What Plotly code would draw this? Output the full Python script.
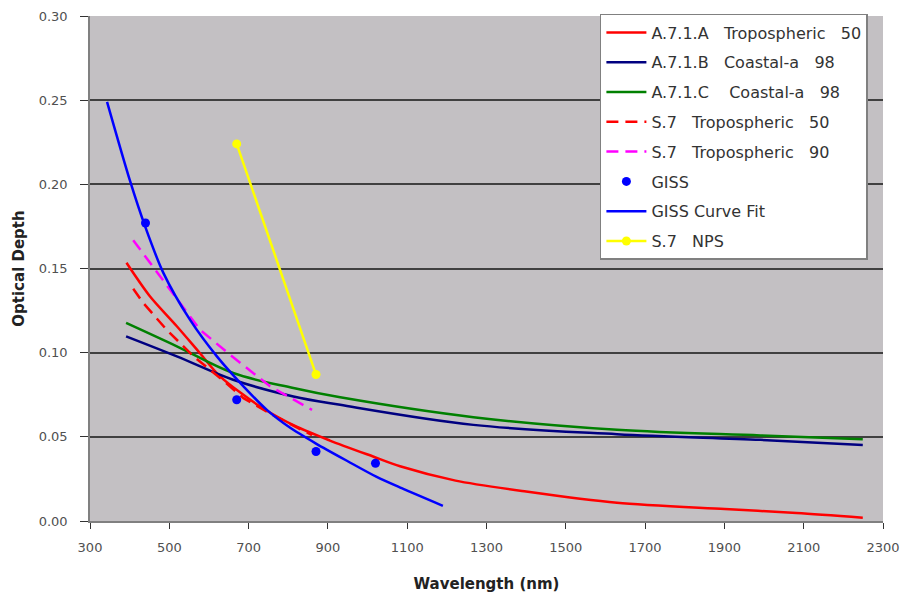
import plotly.graph_objects as go

# A.7.1.A Tropospheric 50
a71a_x = [392, 451, 519, 577, 628, 729, 821, 905, 1014, 1082, 1222, 1400, 1629, 1901, 2082, 2249]
a71a_y = [0.1534, 0.1335, 0.1157, 0.0998, 0.0859, 0.068, 0.056, 0.0478, 0.0383, 0.0325, 0.0240, 0.0175, 0.0108, 0.0071, 0.0048, 0.0020]
# A.7.1.B Coastal-a 98
a71b_x = [391, 519, 661, 813, 931, 1267, 1629, 1991, 2249]
a71b_y = [0.1097, 0.0978, 0.0839, 0.074, 0.069, 0.0571, 0.0516, 0.0482, 0.0452]
# A.7.1.C Coastal-a 98
a71c_x = [391, 519, 661, 813, 931, 1267, 1629, 1991, 2249]
a71c_y = [0.1177, 0.1038, 0.0879, 0.079, 0.0735, 0.0617, 0.0542, 0.0508, 0.0486]
# S.7 Tropospheric 50
s7t50_x = [409, 434, 493, 561, 628, 687, 760, 860]
s7t50_y = [0.138, 0.1296, 0.1137, 0.0978, 0.085, 0.073, 0.063, 0.051]
# S.7 Tropospheric 90
s7t90_x = [409, 477, 577, 653, 754, 860]
s7t90_y = [0.1668, 0.1454, 0.1137, 0.0988, 0.080, 0.066]
# GISS points
giss_x = [440, 670, 870, 1020]
giss_y = [0.177, 0.072, 0.0413, 0.0343]
# GISS curve fit
gfit_x = [343, 401, 439, 485, 552, 620, 687, 746, 804, 870, 950, 1023, 1086, 1190]
gfit_y = [0.249, 0.202, 0.175, 0.1474, 0.1196, 0.0978, 0.080, 0.066, 0.0555, 0.0460, 0.0355, 0.0262, 0.0195, 0.0090]
# S.7 NPS
nps_x = [670, 870]
nps_y = [0.224, 0.087]

x_ticks = [300, 500, 700, 900, 1100, 1300, 1500, 1700, 1900, 2100, 2300]
y_ticks = [0.00, 0.05, 0.10, 0.15, 0.20, 0.25, 0.30]

sp = "\u00a0"
fig = go.Figure()
fig.add_trace(go.Scatter(x=a71a_x, y=a71a_y, mode="lines", name=f"A.7.1.A{sp}{sp} Tropospheric{sp}{sp} 50",
                         line=dict(color="#FF0000", width=2.5, shape="spline", smoothing=0.8), legendgroup="1"))
fig.add_trace(go.Scatter(x=a71b_x, y=a71b_y, mode="lines", name=f"A.7.1.B{sp}{sp} Coastal-a{sp}{sp} 98",
                         line=dict(color="#000080", width=2.5, shape="spline"), legendgroup="2"))
fig.add_trace(go.Scatter(x=a71c_x, y=a71c_y, mode="lines", name=f"A.7.1.C{sp}{sp}{sp} Coastal-a{sp}{sp} 98",
                         line=dict(color="#008000", width=2.5, shape="spline"), legendgroup="3"))
fig.add_trace(go.Scatter(x=s7t50_x, y=s7t50_y, mode="lines", name=f"S.7{sp}{sp} Tropospheric{sp}{sp} 50",
                         line=dict(color="#FF0000", width=2.5, dash="12px,7px"), legendgroup="4"))
fig.add_trace(go.Scatter(x=s7t90_x, y=s7t90_y, mode="lines", name=f"S.7{sp}{sp} Tropospheric{sp}{sp} 90",
                         line=dict(color="#FF00FF", width=2.5, dash="12px,7px"), legendgroup="5"))
fig.add_trace(go.Scatter(x=giss_x, y=giss_y, mode="markers", name="GISS",
                         marker=dict(color="#0000FF", size=9, symbol="circle"), legendgroup="6"))
fig.add_trace(go.Scatter(x=gfit_x, y=gfit_y, mode="lines", name="GISS Curve Fit",
                         line=dict(color="#0000FF", width=2.5, shape="spline", smoothing=0.8), legendgroup="7"))
fig.add_trace(go.Scatter(x=nps_x, y=nps_y, mode="lines+markers", name=f"S.7{sp}{sp} NPS",
                         line=dict(color="#FFFF00", width=2.5),
                         marker=dict(color="#FFFF00", size=9), legendgroup="8"))

fig.update_layout(
    width=903, height=605,
    margin=dict(l=90, r=20, t=16, b=84, autoexpand=False),
    paper_bgcolor="white",
    plot_bgcolor="#C3C0C3",
    font=dict(family="DejaVu Sans, Liberation Sans, Arial, sans-serif", size=13, color="#505050"),
    showlegend=True,
    legend=dict(x=0.643, y=1.004, xanchor="left", yanchor="top",
                bgcolor="white", bordercolor="#808080", borderwidth=1.5,
                font=dict(size=16, color="#333333"), tracegroupgap=6,
                itemwidth=40),
    xaxis=dict(range=[300, 2300], tickmode="array", tickvals=x_ticks,
               ticktext=[str(v) for v in x_ticks],
               showgrid=False, zeroline=False, showline=True, linecolor="#808080", linewidth=1.5,
               ticks="outside", ticklen=6, tickcolor="#333333", ticklabelstandoff=8,
               title=dict(text="<b>Wavelength (nm)</b>", font=dict(size=15, color="#222222"), standoff=24)),
    yaxis=dict(range=[0, 0.30], tickmode="array", tickvals=y_ticks,
               ticktext=[f"{v:.2f}" for v in y_ticks],
               showgrid=True, gridcolor="#404040", gridwidth=1.5, zeroline=False,
               showline=True, linecolor="#808080", linewidth=1.5,
               ticks="outside", ticklen=8, tickcolor="#333333", ticklabelstandoff=10,
               title=dict(text="<b>Optical Depth</b>", font=dict(size=15, color="#222222"), standoff=10)),
)

fig.write_html("out.html", config={"displayModeBar": False},
               post_script="document.body.style.margin='0';document.body.style.overflow='hidden';")
